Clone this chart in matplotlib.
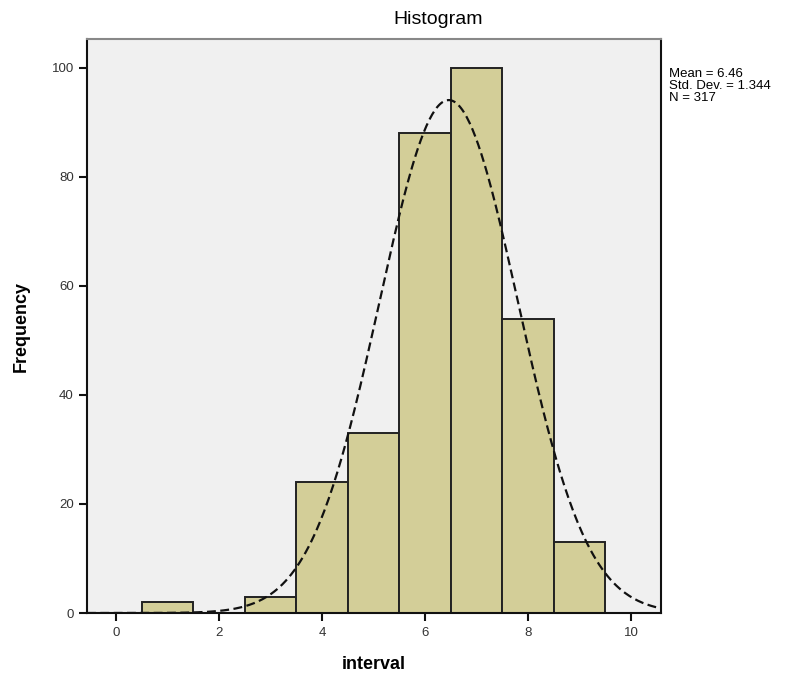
import numpy as np
import matplotlib
matplotlib.use("Agg")
import matplotlib.pyplot as plt

plt.rcParams['font.family'] = ['Liberation Sans', 'DejaVu Sans']

# histogram bins (interval value) and frequencies
bin_centers = [1, 2, 3, 4, 5, 6, 7, 8, 9]
counts = [2, 0, 3, 24, 33, 88, 100, 54, 13]
bin_width = 1.0

stat_mean = 6.46
stat_sd = 1.344
stat_n = 317

x_ticks = [0, 2, 4, 6, 8, 10]
y_ticks = [0, 20, 40, 60, 80, 100]

fig = plt.figure(figsize=(7.88, 6.78), dpi=100)
ax = fig.add_axes([87 / 788, 65 / 678, (661 - 87) / 788, (613 - 39) / 678])
ax.set_facecolor('#F0F0F0')

ax.bar(bin_centers, counts, width=bin_width, color='#D3CE98',
       edgecolor='#222222', linewidth=1.4, zorder=2)

# normal curve
xs = np.linspace(-0.56, 10.58, 400)
ys = stat_n * bin_width / (stat_sd * np.sqrt(2 * np.pi)) * np.exp(-0.5 * ((xs - stat_mean) / stat_sd) ** 2)
ax.plot(xs, ys, color='#111111', linestyle=(0, (4, 2)), linewidth=1.6, zorder=3)

ax.set_xlim(-0.56, 10.58)
ax.set_ylim(0, 105.3)
ax.set_xticks(x_ticks)
ax.set_yticks(y_ticks)
ax.tick_params(axis='both', direction='out', length=6, width=1.5,
               labelsize=9.5, labelcolor='#333333', color='#111111')
ax.tick_params(axis='x', pad=4)
for sp in ax.spines.values():
    sp.set_linewidth(1.5)
    sp.set_color('#111111')
ax.spines['top'].set_color('#888888')

ax.set_xlabel('interval', fontsize=13, fontweight='bold', labelpad=12)
ax.set_ylabel('Frequency', fontsize=13, fontweight='bold')
ax.yaxis.set_label_coords((30 - 87) / 574, 0.5)

fig.text(438 / 788, 1 - 20 / 678, 'Histogram', ha='center', va='center', fontsize=14)
fig.text(669 / 788, 1 - 68 / 678,
         'Mean = %.2f\nStd. Dev. = %.3f\nN = %d' % (stat_mean, stat_sd, stat_n),
         ha='left', va='top', fontsize=9.5, linespacing=1.0)

fig.savefig('out.png', dpi=100)
